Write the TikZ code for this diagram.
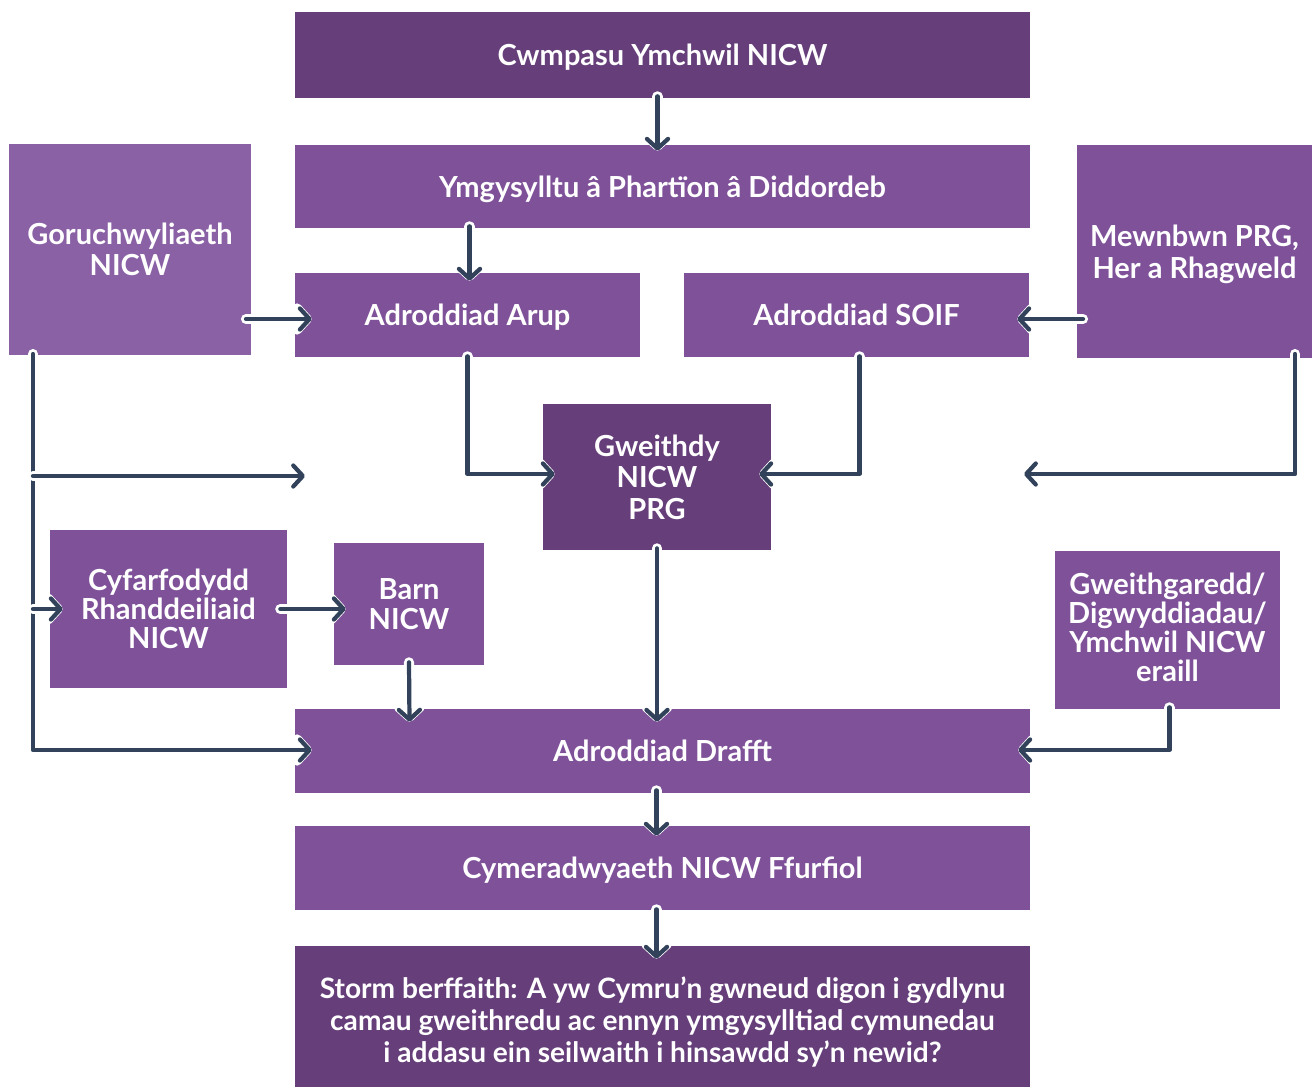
\documentclass[tikz,border=0pt]{standalone}
\usepackage{fontspec}
\setmainfont{Lato}
\usetikzlibrary{arrows.meta,calc}
\definecolor{dkp}{HTML}{653E7A}
\definecolor{mdp}{HTML}{7E5199}
\definecolor{ltp}{HTML}{8A61A5}
\definecolor{navy}{HTML}{31425A}
\tikzset{
  box/.style={rectangle, fill=mdp, text=white, align=center, inner sep=0pt,
    font=\fontsize{16.5}{18}\selectfont\bfseries},
  dbox/.style={box, fill=dkp},
  lbox/.style={box, fill=ltp},
  flat/.style={text depth=0pt},
  conn/.style={line width=2.4pt, draw=navy, line cap=round, line join=round,
    -{Straight Barb[length=5.5pt,width=12pt,round]},
    preaction={draw=white, line width=5.8pt, line cap=round, line join=round,
      -{Straight Barb[length=5.5pt,width=12pt,round]}}}
}
\begin{document}
\begin{tikzpicture}[x=0.02cm,y=-0.02cm]
\useasboundingbox (0,0) rectangle (1312,1086);
\node[dbox, flat, minimum width=14.7cm, minimum height=1.72cm] (cw) at (662.5,55) {Cwmpasu Ymchwil NICW};
\node[box, flat, minimum width=14.7cm, minimum height=1.66cm] (ym) at (662.5,186.5) {Ymgysylltu â Phartïon â Diddordeb};
\node[lbox, minimum width=4.84cm, minimum height=4.22cm] (gor) at (130,249.5) {Goruchwyliaeth\\NICW};
\node[box, flat, minimum width=6.9cm, minimum height=1.68cm] (arup) at (467.5,315) {Adroddiad Arup};
\node[box, flat, minimum width=6.9cm, minimum height=1.68cm] (soif) at (856.5,315) {Adroddiad SOIF};
\node[box, flat, minimum width=4.7cm, minimum height=4.26cm] (mew) at (1194.5,251.5) {Mewnbwn PRG,\\Her a Rhagweld};
\node[dbox, minimum width=4.56cm, minimum height=2.92cm] (gw) at (657,477) {Gweithdy\\NICW\\PRG};
\node[box, minimum width=4.74cm, minimum height=3.16cm, font=\fontsize{16.5}{16.4}\selectfont\bfseries] (cyf) at (168.5,609) {Cyfarfodydd\\Rhanddeiliaid\\NICW};
\node[box, flat, minimum width=3.0cm, minimum height=2.44cm, font=\fontsize{16.5}{16.9}\selectfont\bfseries] (barn) at (409,604) {Barn\\NICW};
\node[box, minimum width=4.5cm, minimum height=3.16cm, text depth=3pt, font=\fontsize{16.5}{16.4}\selectfont\bfseries] (gwg) at (1167.5,630) {Gweithgaredd/\\Digwyddiadau/\\Ymchwil NICW\\eraill};
\node[box, flat, minimum width=14.7cm, minimum height=1.68cm] (dr) at (662.5,751) {Adroddiad Drafft};
\node[box, flat, minimum width=14.7cm, minimum height=1.68cm] (cym) at (662.5,868) {Cymeradwyaeth NICW Ffurfiol};
\node[dbox, minimum width=14.7cm, minimum height=3.04cm, font=\fontsize{16}{18}\selectfont\bfseries] (st) at (662.5,1022) {Storm berffaith: A yw Cymru'n gwneud digon i gydlynu\\camau gweithredu ac ennyn ymgysylltiad cymunedau\\i addasu ein seilwaith i hinsawdd sy'n newid?};

\coordinate (e1) at (1024,474);
\coordinate (e2) at (305,476);

\draw[conn] ($(cw.south)+(-5,-2)$) -- ($(ym.north)+(-5,6)$);
\draw[conn] ($(ym.south)+(-193,-2)$) -- ($(arup.north)+(2,8)$);
\draw[conn] (246,319) -- ($(arup.west)+(17,4)$);
\draw[conn] (1083,319) -- ($(soif.east)+(-12,4)$);
\draw[conn] ($(arup.south)+(0,-1)$) |- ($(gw.west)+(12,-3)$);
\draw[conn] ($(soif.south)+(3,-1)$) |- ($(gw.east)+(-12,-3)$);
\draw[conn] (1295,354) |- (e1);
\draw[conn] (33,354) |- ($(dr.west)+(17,-1)$);
\draw[conn] (33,476) -- (e2);
\draw[conn] (33,609) -- ($(cyf.west)+(13,0)$);
\draw[conn] ($(cyf.east)+(-7,0)$) -- ($(barn.west)+(12,5)$);
\draw[conn] ($(barn.south)+(0,-3)$) -- ($(dr.north)+(-253,13)$);
\draw[conn] ($(gw.south)+(0,-2)$) -- ($(dr.north)+(-5.5,13)$);
\draw[conn] ($(gwg.south)+(2,-2)$) |- ($(dr.east)+(-12,-1)$);
\draw[conn] ($(dr.south)+(-6,-3)$) -- ($(cym.north)+(-6,10)$);
\draw[conn] ($(cym.south)+(-6,-1)$) -- ($(st.north)+(-6,13)$);
\end{tikzpicture}
\end{document}
